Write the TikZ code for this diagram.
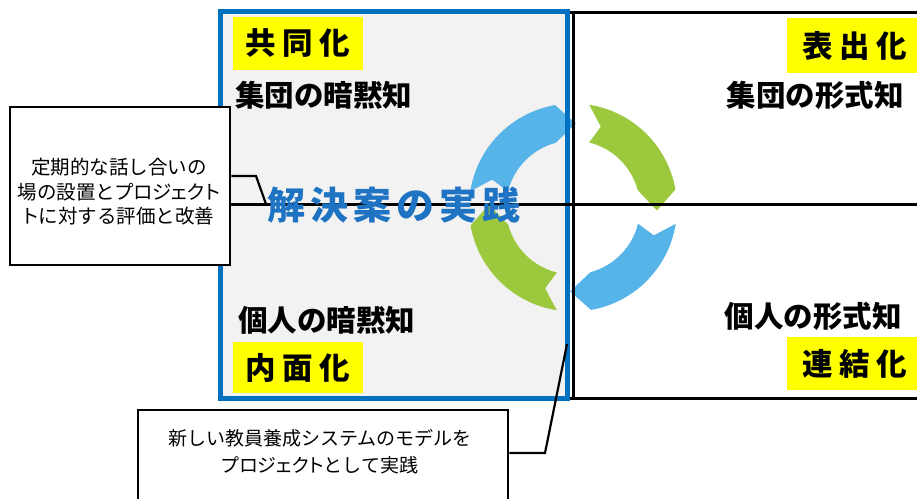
\documentclass[tikz,border=0pt]{standalone}
\usepackage{fontspec}
\setmainfont{Noto Sans CJK JP}
\newfontfamily\jpp[RawFeature=+palt]{Noto Sans CJK JP}
\definecolor{bboxc}{RGB}{0,112,192}
\definecolor{gfill}{RGB}{242,242,242}
\definecolor{arrB}{RGB}{86,180,233}
\definecolor{arrG}{RGB}{155,200,60}
\definecolor{ttlc}{RGB}{30,115,195}
\definecolor{ylw}{RGB}{255,255,0}
\begin{document}
\begin{tikzpicture}[x=1pt,y=-1pt,
  frame/.style={draw=black,line width=3pt},
  ybox/.style={fill=ylw,inner sep=0pt,font=\bfseries\fontsize{30.5}{30.5}\selectfont},
  quad/.style={inner sep=0pt,font=\bfseries\fontsize{29.5}{29.5}\selectfont},
  callout/.style={draw=black,fill=white,line width=2.5pt,inner sep=0pt},
  ctext/.style={align=center,inner sep=0pt,font=\fontsize{19.5}{24.5}\selectfont},
  cline/.style={draw=black,line width=2.2pt}]
\useasboundingbox (0,0) rectangle (917,498);
\begin{scope}
\clip (0,0) rectangle (917,498);
% black frame
\draw[frame] (220,12) rectangle (940,398);
% grey box fill
\fill[gfill] (220,11.5) rectangle (567.5,398.5);
% cycle arrows
\begin{scope}[shift={(573,207.5)},yscale=-1]
 \foreach \k/\c in {0/arrB,1/arrG,2/arrB,3/arrG}{
   \pgfmathsetmacro\To{171-90*\k}
   \pgfmathsetmacro\Ti{166-90*\k}
   \pgfmathsetmacro\Nv{161-90*\k}
   \pgfmathsetmacro\Ho{100-90*\k}
   \pgfmathsetmacro\Hi{105-90*\k}
   \pgfmathsetmacro\Tp{88-90*\k}
   \fill[\c] (\To:104) arc[start angle=\To,end angle=\Ho,radius=104]
     -- (\Tp:84) -- (\Hi:67) arc[start angle=\Hi,end angle=\Ti,radius=67]
     -- (\Nv:85.5) -- cycle;
 }
\end{scope}
% vertical black line
\coordinate (vt) at (573,12);
\coordinate (vb) at (573,398);
\draw[frame] (vt) -- (vb);
% blue box border
\draw[draw=bboxc,line width=5pt] (220,11.5) rectangle (567.5,398.5);
% left callout
\node[callout,minimum width=220pt,minimum height=158pt] (cL) at (120,186) {};
\node[ctext] (cLt) at (119,192) {定期的な話し合いの\\場の設置と{\jpp プロジェクト}\\{\jpp ト}に対する評価と改善};
\coordinate (p1) at (256,176);
\coordinate (p2) at (266,204);
\coordinate (midR) at (917,204);
\draw[cline] (cL.east |- p1) -- (p1) -- (p2);
\draw[frame] (cL.east |- p2) -- (midR);
% bottom callout
\node[callout,minimum width=370pt,minimum height=120pt] (cB) at (323,470) {};
\node[ctext,font=\fontsize{19}{27}\selectfont] (cBt) at (320,451.5) {新しい教員養成システムのモデルを\\{\jpp プロジェクト}として実践};
\coordinate (q1) at (545,453);
\coordinate (q2) at (567,344);
\draw[cline] (cB.east |- q1) -- (q1) -- (q2);
% quadrant labels
\node[ybox,minimum width=130pt,minimum height=53pt] (kyo) at (298,43.5) {共\hspace{6.5pt}同\hspace{6.5pt}化};
\node[ybox,minimum width=130pt,minimum height=51pt] (nai) at (298,367.5) {内\hspace{6.5pt}面\hspace{6.5pt}化};
\node[ybox,minimum width=136pt,minimum height=55pt] (hyo) at (855,45.5) {表\hspace{6.5pt}出\hspace{6.5pt}化};
\node[ybox,minimum width=136pt,minimum height=53pt] (ren) at (855,363.5) {連\hspace{6.5pt}結\hspace{6.5pt}化};
\node[quad,anchor=west] (st) at (235,95) {集団の暗黙知};
\node[quad,anchor=west] (it) at (238,320) {個人の暗黙知};
\node[quad,anchor=east] (sf) at (904,95) {集団の形式知};
\node[quad,anchor=east] (if) at (902,316) {個人の形式知};
% title
\node[inner sep=0pt,text=ttlc,font=\bfseries\fontsize{38}{38}\selectfont] (ttl) at (394,205)
  {解\hspace{5pt}決\hspace{5pt}案\hspace{5pt}の\hspace{5pt}実\hspace{5pt}践};
\end{scope}
\end{tikzpicture}
\end{document}
